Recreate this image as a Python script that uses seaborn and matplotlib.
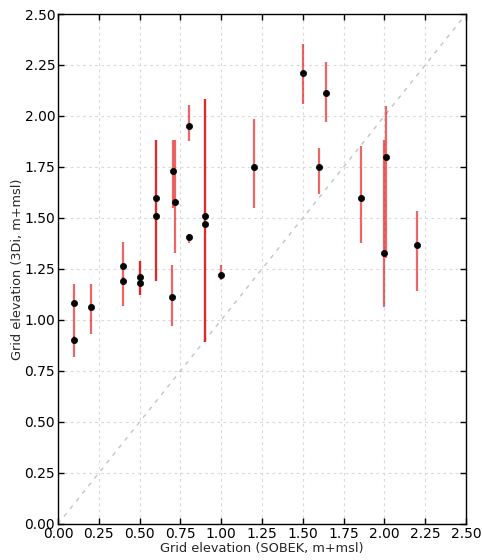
"""
Grid elevation comparison: SOBEK vs 3Di.
"""
import pandas as pd
import matplotlib
matplotlib.use("Agg")
import matplotlib.pyplot as plt
import seaborn as sns

sns.set_style("ticks")
plt.rcParams['font.family'] = ['DejaVu Sans']

# Data
sobek = [0.1, 0.1, 0.2, 0.4, 0.4, 0.5, 0.5, 0.6, 0.6, 0.7, 0.705, 0.715, 0.8, 0.8,
         0.9, 0.9, 1.0, 1.2, 1.5, 1.6, 1.645, 1.855, 1.995, 2.01, 2.2]
threedi = [1.083, 0.90, 1.062, 1.266, 1.191, 1.209, 1.183, 1.60, 1.508, 1.113, 1.73, 1.58,
           1.951, 1.408, 1.508, 1.469, 1.219, 1.751, 2.212, 1.751, 2.111, 1.60, 1.327, 1.80, 1.368]
threedi_min = [0.82, 0.88, 0.93, 1.07, 1.17, 1.122, 1.122, 1.193, 1.193, 0.97, 1.547, 1.327,
               1.877, 1.376, 0.891, 0.891, 1.196, 1.547, 2.059, 1.618, 1.969, 1.376, 1.065, 1.305, 1.142]
threedi_max = [1.176, 0.92, 1.176, 1.38, 1.21, 1.289, 1.289, 1.882, 1.882, 1.27, 1.882, 1.882,
               2.054, 1.42, 2.083, 2.083, 1.27, 1.984, 2.353, 1.845, 2.263, 1.853, 1.882, 2.05, 1.534]
ticks = [0.0, 0.25, 0.5, 0.75, 1.0, 1.25, 1.5, 1.75, 2.0, 2.25, 2.5]

df = pd.DataFrame({'sobek': sobek, 'threedi': threedi,
                   'lo': threedi_min, 'hi': threedi_max})

fig = plt.figure(figsize=(4.82, 5.6), dpi=100)
ax = fig.add_axes([0.1203, 0.0643, 0.8465, 0.9107])

# ligne 1:1
ax.plot([0, 2.5], [0, 2.5], linestyle=(0, (3, 4)), color='#c4c4c4', lw=1, zorder=1)

# min/max des cellules 3Di
ax.vlines(df['sobek'], df['lo'], df['hi'], colors='#e00000', alpha=0.6, lw=1.6, zorder=2)

sns.scatterplot(data=df, x='sobek', y='threedi', color='black', s=20,
                edgecolor='black', linewidth=0.5, zorder=3, ax=ax)

ax.set_xlim(0, 2.5)
ax.set_ylim(0, 2.5)
ax.set_xticks(ticks)
ax.set_yticks(ticks)
ax.set_xticklabels([f"{t:.2f}" for t in ticks])
ax.set_yticklabels([f"{t:.2f}" for t in ticks])
ax.grid(True, linestyle=(0, (2.5, 3)), color='#dadada', lw=0.8)
ax.set_axisbelow(True)
ax.tick_params(direction='in', top=True, right=True, length=4, width=1,
               labelsize=10, colors='black', pad=2)
for sp in ax.spines.values():
    sp.set_color('black')
    sp.set_linewidth(1)

ax.set_xlabel("Grid elevation (SOBEK, m+msl)", fontsize=9.3, labelpad=1)
ax.set_ylabel("Grid elevation (3Di, m+msl)", fontsize=9.3, labelpad=0.5)

fig.savefig("out.png", dpi=100)
